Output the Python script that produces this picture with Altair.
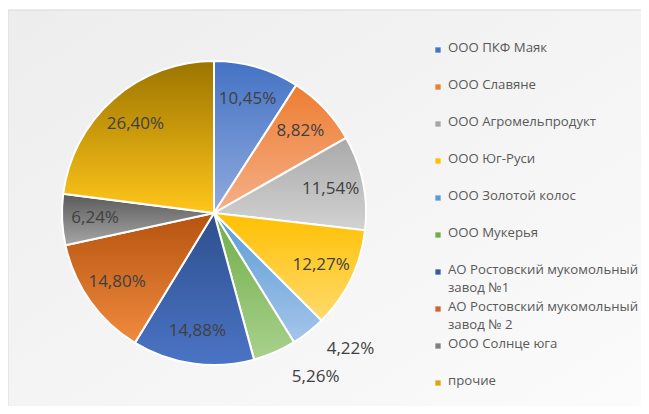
import altair as alt
import pandas as pd

names = [
    "ООО ПКФ Маяк",
    "ООО Славяне",
    "ООО Агромельпродукт",
    "ООО Юг-Руси",
    "ООО Золотой колос",
    "ООО Мукерья",
    "АО Ростовский мукомольный завод №1",
    "АО Ростовский мукомольный завод № 2",
    "ООО Солнце юга",
    "прочие",
]
shares = [10.45, 8.82, 11.54, 12.27, 4.22, 5.26, 14.88, 14.80, 6.24, 26.40]

top_colors = ["#4472C4", "#ED7D31", "#A9A9A9", "#FFC000", "#5B9BD5",
              "#70AD47", "#2E4F8E", "#B5530F", "#5A5A5A", "#9C7400"]
bottom_colors = ["#90ABDD", "#F5B08A", "#D2D2D2", "#FFDA6E", "#A4C5EA",
                 "#A9D18E", "#4B74C5", "#F08A3E", "#A6A6A6", "#FFC61A"]
legend_colors = ["#4472C4", "#ED7D31", "#A5A5A5", "#FFC000", "#5B9BD5",
                 "#70AD47", "#3A5A9E", "#D0652A", "#808080", "#D7A90F"]

labels = [f"{v:.2f}".replace(".", ",") + "%" for v in shares]

df = pd.DataFrame({
    "idx": list(range(len(names))),
    "name": names,
    "share": shares,
    "label": labels,
    "lc": legend_colors,
})

CX, CY, R = 206, 203, 152
FONT = "Open Sans"

base = (
    alt.Chart(df)
    .transform_joinaggregate(total="sum(share)")
    .transform_window(cum="sum(share)", sort=[alt.SortField("idx")], frame=[None, 0])
    .transform_calculate(
        t0="(datum.cum - datum.share) / datum.total * 2 * PI",
        t1="datum.cum / datum.total * 2 * PI",
    )
)

bg = alt.Chart(pd.DataFrame({"a": [0]})).mark_rect(
    fill=alt.LinearGradient(
        gradient="linear",
        stops=[alt.GradientStop(color="#EDEDED", offset=0),
               alt.GradientStop(color="#FBFBFB", offset=1)],
        x1=0, y1=0, x2=1, y2=1,
    )
).encode(x=alt.value(0), x2=alt.value("width"), y=alt.value(0), y2=alt.value("height"))

top_border = alt.Chart(pd.DataFrame({"a": [0]})).mark_rule(color="#D9D9D9").encode(
    x=alt.value(0), x2=alt.value("width"), y=alt.value(0))
left_border = alt.Chart(pd.DataFrame({"a": [0]})).mark_rule(color="#D9D9D9").encode(
    x=alt.value(0), y=alt.value(0), y2=alt.value("height"))

slices = []
for i in range(len(names)):
    grad = alt.LinearGradient(
        gradient="linear",
        stops=[alt.GradientStop(color=top_colors[i], offset=0),
               alt.GradientStop(color=bottom_colors[i], offset=1)],
        x1=0, y1=0, x2=0, y2=1,
    )
    slices.append(
        base.transform_filter(f"datum.idx == {i}")
        .mark_arc(radius=R, stroke="white", strokeWidth=2, fill=grad)
        .encode(
            theta=alt.Theta("t0:Q", scale=None),
            theta2="t1:Q",
            x=alt.value(CX),
            y=alt.value(CY),
        )
    )

pie_labels = (
    base.transform_calculate(
        tm="datum.share < 6 ? datum.t0 : (datum.t0 + datum.t1) / 2",
        lr="datum.share < 6 ? 193 : 119",
    )
    .mark_text(font=FONT, fontSize=17, color="#404040")
    .encode(
        theta=alt.Theta("tm:Q", scale=None),
        radius=alt.Radius("lr:Q", scale=None),
        text="label:N",
        x=alt.value(CX),
        y=alt.value(CY),
    )
)

yscale = alt.Scale(domain=[0, 9], range=[40, 373], nice=False, zero=False)

legend_marks = alt.Chart(df).mark_square(size=28, opacity=1).encode(
    x=alt.value(430),
    y=alt.Y("idx:Q", scale=yscale, axis=None),
    color=alt.Color("lc:N", scale=None),
)

legend_text = (
    alt.Chart(df)
    .transform_calculate(txt="replace(datum.name, ' завод', '\\nзавод')")
    .mark_text(font=FONT, fontSize=13.2, color="#595959", align="left",
               baseline="top", dy=-8, lineBreak="\n", lineHeight=18)
    .encode(
        x=alt.value(440),
        y=alt.Y("idx:Q", scale=yscale, axis=None),
        text="txt:N",
    )
)

chart = (
    alt.layer(bg, top_border, left_border, *slices, pie_labels, legend_marks, legend_text)
    .properties(
        width=633,
        height=396,
        padding={"left": 0, "top": 2, "right": 0, "bottom": 0},
        autosize="none",
        background="white",
    )
    .configure_view(stroke="transparent")
)

chart.save("out.html", embed_options={"renderer": "svg", "actions": False})
